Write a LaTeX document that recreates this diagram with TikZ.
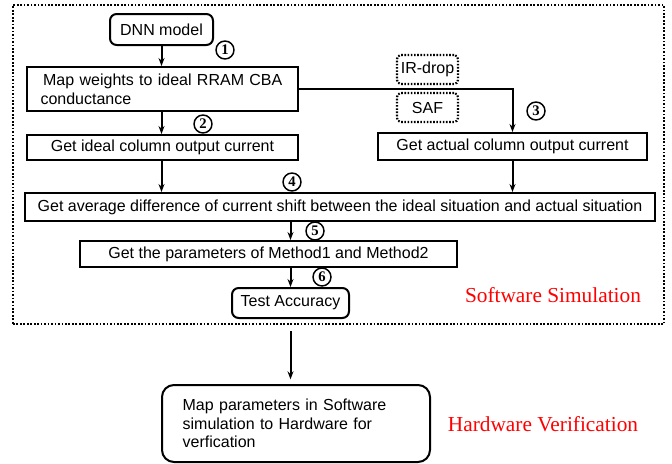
\documentclass[tikz,border=0pt]{standalone}
\usepackage{fontspec}
\setmainfont{Liberation Sans}
\newfontfamily\romanfont{Liberation Serif}
\usetikzlibrary{arrows.meta, positioning, calc}

\begin{document}
\begin{tikzpicture}[
  x=0.75pt, y=-0.75pt,
  proc/.style={rectangle, draw, line width=1.5pt, inner sep=2pt,
               font=\fontsize{12}{14}\selectfont},
  term/.style={proc, rounded corners=5pt},
  fault/.style={rectangle, rounded corners=3pt, draw, line width=1.6pt,
                dash pattern=on 1.2pt off 1.2pt,
                inner sep=2pt, font=\fontsize{12}{14}\selectfont,
                minimum width=45.75pt, minimum height=21.75pt},
  num/.style={circle, draw, line width=1.1pt, inner sep=0pt, minimum size=13.5pt,
              font=\romanfont\bfseries\fontsize{11}{11}\selectfont},
  arrow/.style={-{Stealth[length=6pt, width=4.5pt]}, line width=1.5pt},
  stage/.style={text=red, font=\romanfont\fontsize{16}{18}\selectfont},
  simbox/.style={rectangle, draw, line width=1.6pt, dash pattern=on 1.3pt off 1.3pt},
]
\useasboundingbox (0,0) rectangle (672,464);

% software simulation frame
\node[simbox, minimum width=488.25pt, minimum height=239.25pt] (sim) at (338.5,164.5) {};

\node[term, minimum width=77.25pt, minimum height=23.25pt] (dnn) at (161.5,29.5) {DNN model};
\node[proc, minimum width=203.25pt, minimum height=33pt, text width=183pt, align=left]
      (map) at (162.5,89) {\,Map weights to ideal RRAM CBA\\conductance};
\node[proc, minimum width=203.25pt, minimum height=18.75pt] (ideal) at (162.5,147.5)
      {Get ideal column output current};
\node[fault] (irdrop) at (427.5,69.5) {IR-drop};
\node[fault] (saf)    at (427.5,107.5) {SAF};
\node[proc, minimum width=201.75pt, minimum height=20.25pt] (actual) at (512.5,146.5)
      {Get actual column output current};
\node[proc, minimum width=472.5pt, minimum height=21pt] (avg) at (340,207)
      {Get average difference of current shift between the ideal situation and actual situation};
\node[proc, minimum width=282.75pt, minimum height=19.5pt] (params) at (268.5,254)
      {Get the parameters of Method1 and Method2};
\node[term, minimum width=87.75pt, minimum height=22.5pt] (test) at (290.5,303)
      {Test Accuracy};
\node[term, rounded corners=9pt, minimum width=201pt, minimum height=57.75pt,
      text width=170pt, align=left] (hw) at (296,423.5)
      {Map parameters in Software\\simulation to Hardware for\\verfication};

% step numbers
\node[num] (n1) at (225,50)  {1};
\node[num] (n2) at (203,124) {2};
\node[num] (n3) at (536,111) {3};
\node[num] (n4) at (292,182) {4};
\node[num] (n5) at (315,231) {5};
\node[num] (n6) at (322,277) {6};

\node[stage] (swlabel) at (553,295) {Software Simulation};
\node[stage] (hwlabel) at (543,424) {Hardware Verification};

% connectors
\draw[arrow] (dnn) -- (map.north -| dnn);
\draw[arrow] (map.south -| dnn) -- (ideal.north -| dnn);
\draw[arrow] (map.east) -| (actual.north);
\draw[arrow] (ideal.south -| dnn) -- (avg.north -| dnn);
\draw[arrow] (actual) -- (avg.north -| actual);
\draw[arrow] (avg.south -| test) -- (params.north -| test);
\draw[arrow] (params.south -| test) -- (test);
\draw[arrow, shorten <=4.5pt, shorten >=3.5pt] (sim.south -| test) -- (hw.north -| test);
\end{tikzpicture}
\end{document}
